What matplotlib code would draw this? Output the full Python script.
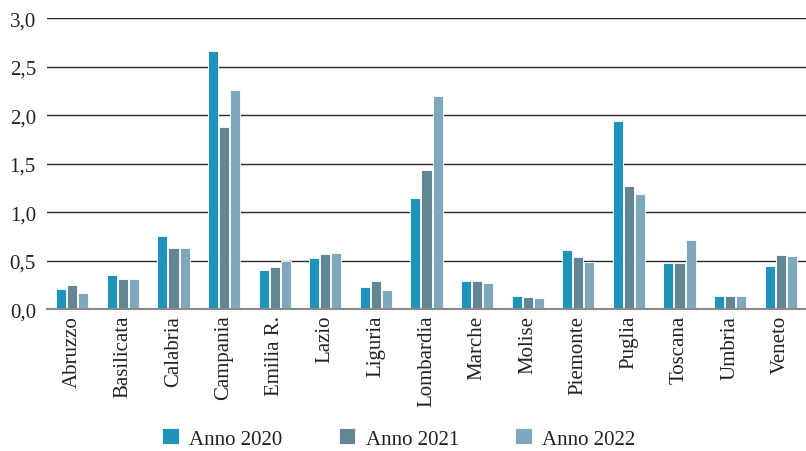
import matplotlib
matplotlib.use("Agg")
import matplotlib.pyplot as plt
import numpy as np

regions = ["Abruzzo", "Basilicata", "Calabria", "Campania", "Emilia R.", "Lazio",
           "Liguria", "Lombardia", "Marche", "Molise", "Piemonte", "Puglia",
           "Toscana", "Umbria", "Veneto"]
anno_2020 = [0.21, 0.35, 0.75, 2.66, 0.40, 0.53, 0.23, 1.15, 0.29, 0.13, 0.61, 1.94, 0.48, 0.13, 0.44]
anno_2021 = [0.25, 0.31, 0.63, 1.88, 0.43, 0.57, 0.29, 1.44, 0.29, 0.12, 0.54, 1.27, 0.48, 0.13, 0.56]
anno_2022 = [0.17, 0.31, 0.63, 2.26, 0.50, 0.58, 0.20, 2.20, 0.27, 0.11, 0.49, 1.19, 0.71, 0.13, 0.55]
series_labels = ["Anno 2020", "Anno 2021", "Anno 2022"]
y_ticks = [0.0, 0.5, 1.0, 1.5, 2.0, 2.5, 3.0]

colors = ["#1e94bb", "#648594", "#80a8bd"]

plt.rcParams['font.family'] = ['Liberation Serif', 'DejaVu Serif']

fig = plt.figure(figsize=(8.06, 4.52), dpi=100)
ax = fig.add_axes([0.0583, 0.314, 0.9417, 0.643])

x = np.arange(len(regions))
step = 0.22
width = 0.2
for i, (vals, lab, c) in enumerate(zip([anno_2020, anno_2021, anno_2022], series_labels, colors)):
    ax.bar(x + (i - 1) * step, vals, width=width, color=c, edgecolor="white",
           linewidth=0.6, label=lab, zorder=3)

ax.set_xlim(-0.5, len(regions) - 0.5)
ax.set_ylim(0, 3.0)
ax.set_yticks(y_ticks)
ax.set_yticklabels([f"{v:.1f}".replace(".", ",") for v in y_ticks], fontsize=15, color="#222222")
ax.set_xticks(x)
ax.set_xticklabels(regions, rotation=90, fontsize=15, color="#222222")
ax.tick_params(axis="both", length=0, pad=4)
ax.tick_params(axis="y", pad=8)

for v in y_ticks[1:]:
    ax.axhline(v, color="#2a2a2a", linewidth=1.0, zorder=1)

for s in ["top", "right", "left"]:
    ax.spines[s].set_visible(False)
ax.spines["bottom"].set_color("#8a8a8a")
ax.spines["bottom"].set_linewidth(1.5)
ax.spines["bottom"].set_zorder(4)

handles, labels = ax.get_legend_handles_labels()
fig.legend(handles, labels, loc="lower center", bbox_to_anchor=(0.495, -0.036), ncol=3,
           frameon=False, fontsize=15, handlelength=0.8, handleheight=0.8,
           columnspacing=2.7, handletextpad=0.5, labelcolor="#222222")

fig.savefig("out.png", dpi=100)
